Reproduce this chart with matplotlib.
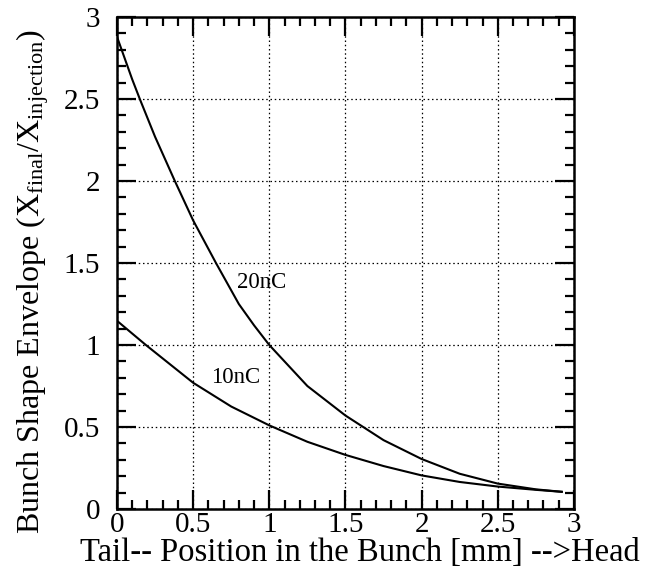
import matplotlib
matplotlib.use("Agg")
import matplotlib.pyplot as plt
from matplotlib.ticker import MultipleLocator

plt.rcParams['font.family'] = ['Liberation Serif', 'DejaVu Serif']
plt.rcParams['mathtext.fontset'] = 'custom'
plt.rcParams['mathtext.rm'] = 'Liberation Serif'
plt.rcParams['mathtext.it'] = 'Liberation Serif:italic'

# Data
x_20nC = [0.0, 0.05, 0.1, 0.15, 0.25, 0.38, 0.5, 0.65, 0.8, 0.9, 1.0, 1.25, 1.5, 1.75, 2.0, 2.25, 2.5, 2.75, 2.92]
y_20nC = [2.88, 2.75, 2.62, 2.50, 2.27, 2.00, 1.76, 1.50, 1.25, 1.12, 1.00, 0.75, 0.57, 0.42, 0.305, 0.215, 0.155, 0.12, 0.105]

x_10nC = [0.0, 0.1, 0.19, 0.5, 0.75, 1.0, 1.25, 1.5, 1.75, 2.0, 2.25, 2.5, 2.75, 2.92]
y_10nC = [1.148, 1.07, 1.0, 0.77, 0.625, 0.51, 0.41, 0.33, 0.262, 0.205, 0.165, 0.137, 0.117, 0.105]

labels = ["20nC", "10nC"]
label_pos = [(0.95, 1.38), (0.78, 0.80)]

x_ticks = [0, 0.5, 1, 1.5, 2, 2.5, 3]
x_tick_labels = ["0", "0.5", "1", "1.5", "2", "2.5", "3"]
y_ticks = [0, 0.5, 1, 1.5, 2, 2.5, 3]
y_tick_labels = ["0", "0.5", "1", "1.5", "2", "2.5", "3"]

fig = plt.figure(figsize=(6.62, 5.72), dpi=100)
ax = fig.add_axes([0.1767, 0.1101, 0.6903, 0.8601])

ax.plot(x_20nC, y_20nC, color='black', lw=1.5)
ax.plot(x_10nC, y_10nC, color='black', lw=1.5)
for lab, (lx, ly) in zip(labels, label_pos):
    ax.text(lx, ly, lab, fontsize=16.5, ha='center', va='center')

ax.set_xlim(0, 3)
ax.set_ylim(0, 3)
ax.set_xticks(x_ticks)
ax.set_xticklabels(x_tick_labels)
ax.set_yticks(y_ticks)
ax.set_yticklabels(y_tick_labels)
ax.xaxis.set_minor_locator(MultipleLocator(0.1))
ax.yaxis.set_minor_locator(MultipleLocator(0.1))
ax.tick_params(which='both', direction='in', top=True, right=True, width=1.6, labelsize=21, color='black')
ax.tick_params(which='major', length=14)
ax.tick_params(which='minor', length=6.5)
ax.tick_params(axis='x', which='major', pad=2)
ax.tick_params(axis='y', which='major', pad=12)
ax.grid(True, which='major', linestyle=(0, (1.2, 2.2)), color='black', lw=0.9)
for s in ax.spines.values():
    s.set_linewidth(1.8)

ax.set_xlabel('Tail-- Position in the Bunch [mm] -->Head', fontsize=23.5)
ax.set_ylabel(r'Bunch Shape Envelope (X$_{\mathrm{final}}$/X$_{\mathrm{injection}}$)', fontsize=23)
ax.xaxis.set_label_coords(0.532, -0.058)
ax.yaxis.set_label_coords(-0.145, 0.463)

fig.savefig('out.png', dpi=100)
